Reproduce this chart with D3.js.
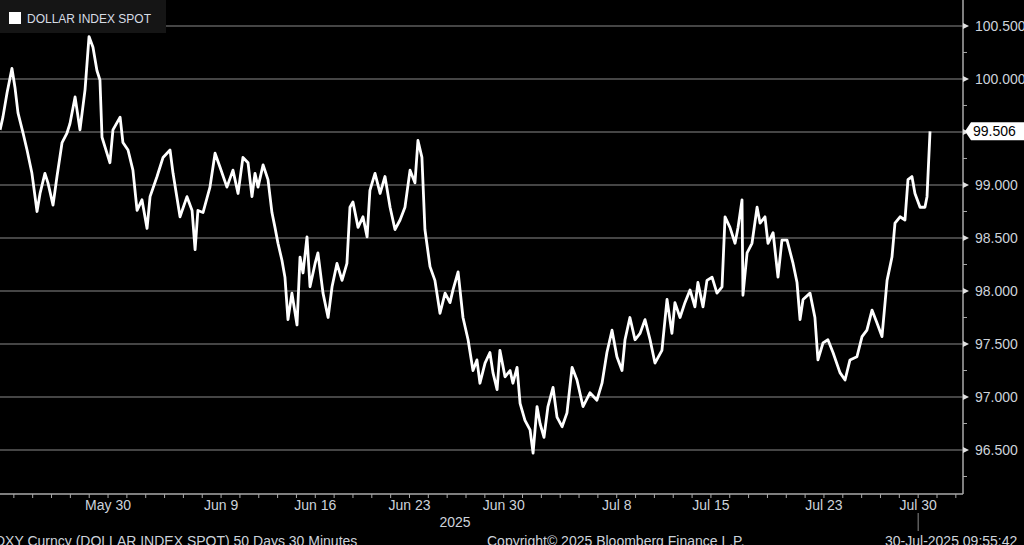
<!DOCTYPE html>
<html>
<head>
<meta charset="utf-8">
<script src="https://d3js.org/d3.v7.min.js"></script>
<style>
  body { margin: 0; background: #000; overflow: hidden; }
  .chart text { font-family: "Liberation Sans", Arial, sans-serif; }
</style>
</head>
<body>
<svg class="chart"></svg>
<script>
// trading-day offset from May 22 (weekends skipped), price
var series = [
  [0.27, 99.52], [0.42, 99.64], [0.64, 99.87], [0.90, 100.10], [1.06, 99.92], [1.22, 99.68],
  [1.49, 99.49], [1.70, 99.33], [1.96, 99.11], [2.23, 98.75], [2.39, 98.92], [2.65, 99.11],
  [2.81, 99.02], [3.08, 98.81], [3.29, 99.08], [3.56, 99.40], [3.82, 99.49], [3.98, 99.58],
  [4.25, 99.83], [4.51, 99.52], [4.78, 99.90], [4.99, 100.40], [5.20, 100.30], [5.41, 100.08],
  [5.57, 99.99], [5.68, 99.45], [5.94, 99.30], [6.10, 99.21], [6.26, 99.52], [6.64, 99.64],
  [6.79, 99.40], [7.06, 99.33], [7.32, 99.14], [7.54, 98.76], [7.80, 98.86], [8.07, 98.59],
  [8.23, 98.89], [8.60, 99.08], [8.92, 99.26], [9.29, 99.33], [9.45, 99.11], [9.82, 98.70],
  [10.19, 98.89], [10.46, 98.76], [10.62, 98.39], [10.77, 98.76], [11.04, 98.74], [11.41, 98.98],
  [11.68, 99.30], [11.94, 99.17], [12.31, 98.98], [12.63, 99.14], [12.90, 98.92], [13.16, 99.26],
  [13.43, 99.21], [13.64, 98.89], [13.80, 99.11], [13.96, 98.98], [14.23, 99.19], [14.49, 99.05],
  [14.70, 98.74], [14.86, 98.60], [15.02, 98.45], [15.23, 98.29], [15.39, 98.13], [15.55, 97.73],
  [15.76, 97.98], [16.03, 97.68], [16.19, 98.32], [16.35, 98.17], [16.56, 98.51], [16.72, 98.04],
  [16.99, 98.26], [17.14, 98.36], [17.41, 97.98], [17.68, 97.75], [17.89, 98.04], [18.15, 98.26],
  [18.42, 98.10], [18.68, 98.26], [18.84, 98.79], [19.00, 98.84], [19.27, 98.60], [19.53, 98.70],
  [19.75, 98.51], [19.90, 98.95], [20.17, 99.11], [20.44, 98.92], [20.70, 99.08], [20.97, 98.79],
  [21.23, 98.58], [21.50, 98.67], [21.76, 98.79], [22.03, 99.14], [22.29, 99.02], [22.45, 99.42],
  [22.66, 99.26], [22.82, 98.58], [23.09, 98.23], [23.35, 98.10], [23.62, 97.79], [23.89, 97.98],
  [24.15, 97.89], [24.31, 98.01], [24.58, 98.18], [24.84, 97.75], [25.11, 97.54], [25.37, 97.25],
  [25.58, 97.35], [25.74, 97.13], [26.01, 97.32], [26.27, 97.42], [26.43, 97.23], [26.65, 97.07],
  [26.80, 97.44], [27.07, 97.19], [27.34, 97.25], [27.49, 97.13], [27.71, 97.28], [27.87, 96.94],
  [28.13, 96.78], [28.40, 96.69], [28.56, 96.47], [28.77, 96.91], [28.93, 96.75], [29.14, 96.62],
  [29.35, 96.91], [29.62, 97.09], [29.83, 96.81], [30.10, 96.72], [30.36, 96.85], [30.63, 97.28],
  [30.89, 97.16], [31.21, 96.91], [31.58, 97.04], [31.95, 96.97], [32.22, 97.13], [32.48, 97.42],
  [32.75, 97.63], [33.01, 97.38], [33.28, 97.25], [33.44, 97.54], [33.70, 97.75], [33.97, 97.54],
  [34.24, 97.60], [34.50, 97.73], [34.77, 97.54], [35.03, 97.32], [35.40, 97.44], [35.67, 97.92],
  [35.93, 97.60], [36.09, 97.89], [36.36, 97.75], [36.62, 97.89], [36.89, 98.01], [37.15, 97.85],
  [37.31, 98.08], [37.58, 97.85], [37.79, 98.10], [38.06, 98.13], [38.32, 97.98], [38.59, 98.04],
  [38.75, 98.70], [39.01, 98.60], [39.28, 98.45], [39.44, 98.60], [39.65, 98.86], [39.70, 97.96],
  [39.92, 98.36], [40.18, 98.45], [40.45, 98.79], [40.61, 98.64], [40.87, 98.70], [41.03, 98.45],
  [41.30, 98.55], [41.56, 98.13], [41.77, 98.48], [42.04, 98.48], [42.36, 98.26], [42.57, 98.08],
  [42.73, 97.73], [42.89, 97.92], [43.26, 97.98], [43.52, 97.75], [43.68, 97.35], [43.95, 97.51],
  [44.21, 97.54], [44.48, 97.42], [44.85, 97.23], [45.12, 97.16], [45.38, 97.35], [45.75, 97.38],
  [46.02, 97.57], [46.28, 97.63], [46.55, 97.82], [46.81, 97.70], [47.08, 97.57], [47.35, 98.10],
  [47.61, 98.32], [47.77, 98.64], [48.04, 98.70], [48.30, 98.67], [48.46, 99.05], [48.67, 99.08],
  [48.83, 98.92], [49.10, 98.79], [49.36, 98.79], [49.47, 98.89], [49.63, 99.506]
];

var tickDays = [6, 12, 17, 22, 27, 33, 38, 44, 49];
var tickLabels = ["May 30", "Jun 9", "Jun 16", "Jun 23", "Jun 30", "Jul 8", "Jul 15", "Jul 23", "Jul 30"];
var priceTicks = [96.5, 97, 97.5, 98, 98.5, 99, 99.5, 100, 100.5];
var lastPrice = 99.506;
var legendLabel = "DOLLAR INDEX SPOT";
var yearLabel = "2025";
var footer = ["DXY Curncy (DOLLAR INDEX SPOT) 50 Days 30 Minutes", "Copyright\u00a9 2025 Bloomberg Finance L.P.", "30-Jul-2025 09:55:42"];

var width = 1024, height = 545,
    plotW = 963, plotH = 494;

var svg = d3.select('.chart')
    .attr('width', width)
    .attr('height', height);

svg.append('rect').attr('width', width).attr('height', height).attr('fill', '#000');

var x = d3.scaleLinear().domain([0.265, 51.38]).range([0, plotW]);
var y = d3.scaleLinear().domain([96.085, 100.745]).range([plotH, 0]);

// grid
svg.append('g').selectAll('line')
    .data(priceTicks)
    .enter().append('line')
    .attr('x1', 0).attr('x2', plotW)
    .attr('y1', function(d) { return y(d); })
    .attr('y2', function(d) { return y(d); })
    .attr('stroke', '#5c5c5c')
    .attr('stroke-width', 1.5);

// price line
var line = d3.line()
    .x(function(d) { return x(d[0]); })
    .y(function(d) { return y(d[1]); });

svg.append('path')
    .datum(series)
    .attr('d', line)
    .attr('fill', 'none')
    .attr('stroke', '#fff')
    .attr('stroke-width', 2.8)
    .attr('stroke-linejoin', 'round');

// frame
svg.append('line').attr('x1', plotW).attr('x2', plotW).attr('y1', 0).attr('y2', plotH)
    .attr('stroke', '#a8a8a8').attr('stroke-width', 1.5);
svg.append('line').attr('x1', 0).attr('x2', plotW).attr('y1', plotH).attr('y2', plotH)
    .attr('stroke', '#a8a8a8').attr('stroke-width', 1.5);

// right axis
var yAxisG = svg.append('g')
    .attr('transform', 'translate(' + plotW + ',0)');

var minorTicks = d3.range(96.25, 100.75, 0.5);
yAxisG.selectAll('.minor')
    .data(minorTicks)
    .enter().append('line')
    .attr('x1', 0).attr('x2', 4)
    .attr('y1', function(d) { return y(d); })
    .attr('y2', function(d) { return y(d); })
    .attr('stroke', '#a8a8a8');

yAxisG.selectAll('.major')
    .data(priceTicks)
    .enter().append('path')
    .attr('d', function(d) { var p = y(d); return 'M0,' + (p - 3) + 'L6,' + p + 'L0,' + (p + 3) + 'Z'; })
    .attr('fill', '#e0e0e0');

yAxisG.selectAll('.lbl')
    .data(priceTicks.filter(function(d) { return Math.abs(d - lastPrice) > 0.1; }))
    .enter().append('text')
    .attr('x', 12)
    .attr('y', function(d) { return y(d); })
    .attr('dy', '0.36em')
    .attr('fill', '#cdd3db')
    .style('font-size', '14px')
    .text(function(d) { return d3.format('.3f')(d); });

// last value tag
var ly = y(lastPrice);
yAxisG.append('path')
    .attr('d', 'M2,' + ly + 'L8,' + (ly - 9) + 'L61,' + (ly - 9) + 'L61,' + (ly + 9) + 'L8,' + (ly + 9) + 'Z')
    .attr('fill', '#fff');
yAxisG.append('text')
    .attr('x', 10)
    .attr('y', ly)
    .attr('dy', '0.36em')
    .attr('fill', '#000')
    .style('font-size', '14px')
    .text(d3.format('.3f')(lastPrice));

// bottom axis: one tick per trading day
var xAxisG = svg.append('g');
xAxisG.selectAll('.day')
    .data(d3.range(1, 52))
    .enter().append('line')
    .attr('x1', function(d) { return x(d); })
    .attr('x2', function(d) { return x(d); })
    .attr('y1', plotH).attr('y2', plotH + 4)
    .attr('stroke', '#a8a8a8');

xAxisG.selectAll('.lbl')
    .data(tickDays)
    .enter().append('text')
    .attr('x', function(d) { return x(d); })
    .attr('y', 510)
    .attr('text-anchor', 'middle')
    .attr('fill', '#cdd3db')
    .style('font-size', '14px')
    .text(function(d, i) { return tickLabels[i]; });

xAxisG.append('text')
    .attr('x', 455).attr('y', 527)
    .attr('text-anchor', 'middle')
    .attr('fill', '#cdd3db')
    .style('font-size', '14px')
    .text(yearLabel);

xAxisG.append('line')
    .attr('x1', x(49)).attr('x2', x(49))
    .attr('y1', 513).attr('y2', 531)
    .attr('stroke', '#8a8a8a');

// footer (cut by the bottom edge, as in the terminal screenshot)
var footerX = [-5, 487, 885];
svg.selectAll('.foot')
    .data(footer)
    .enter().append('text')
    .attr('x', function(d, i) { return footerX[i]; })
    .attr('y', 546)
    .attr('fill', '#cdd3db')
    .style('font-size', '14px')
    .text(function(d) { return d; });

// legend
svg.append('rect')
    .attr('x', 0).attr('y', 0)
    .attr('width', 166).attr('height', 33)
    .attr('fill', '#151515');
svg.append('rect')
    .attr('x', 9).attr('y', 12)
    .attr('width', 12).attr('height', 12)
    .attr('fill', '#fff');
svg.append('text')
    .attr('x', 27).attr('y', 23)
    .attr('fill', '#d6dce4')
    .style('font-size', '12px')
    .text(legendLabel);
</script>
</body>
</html>
